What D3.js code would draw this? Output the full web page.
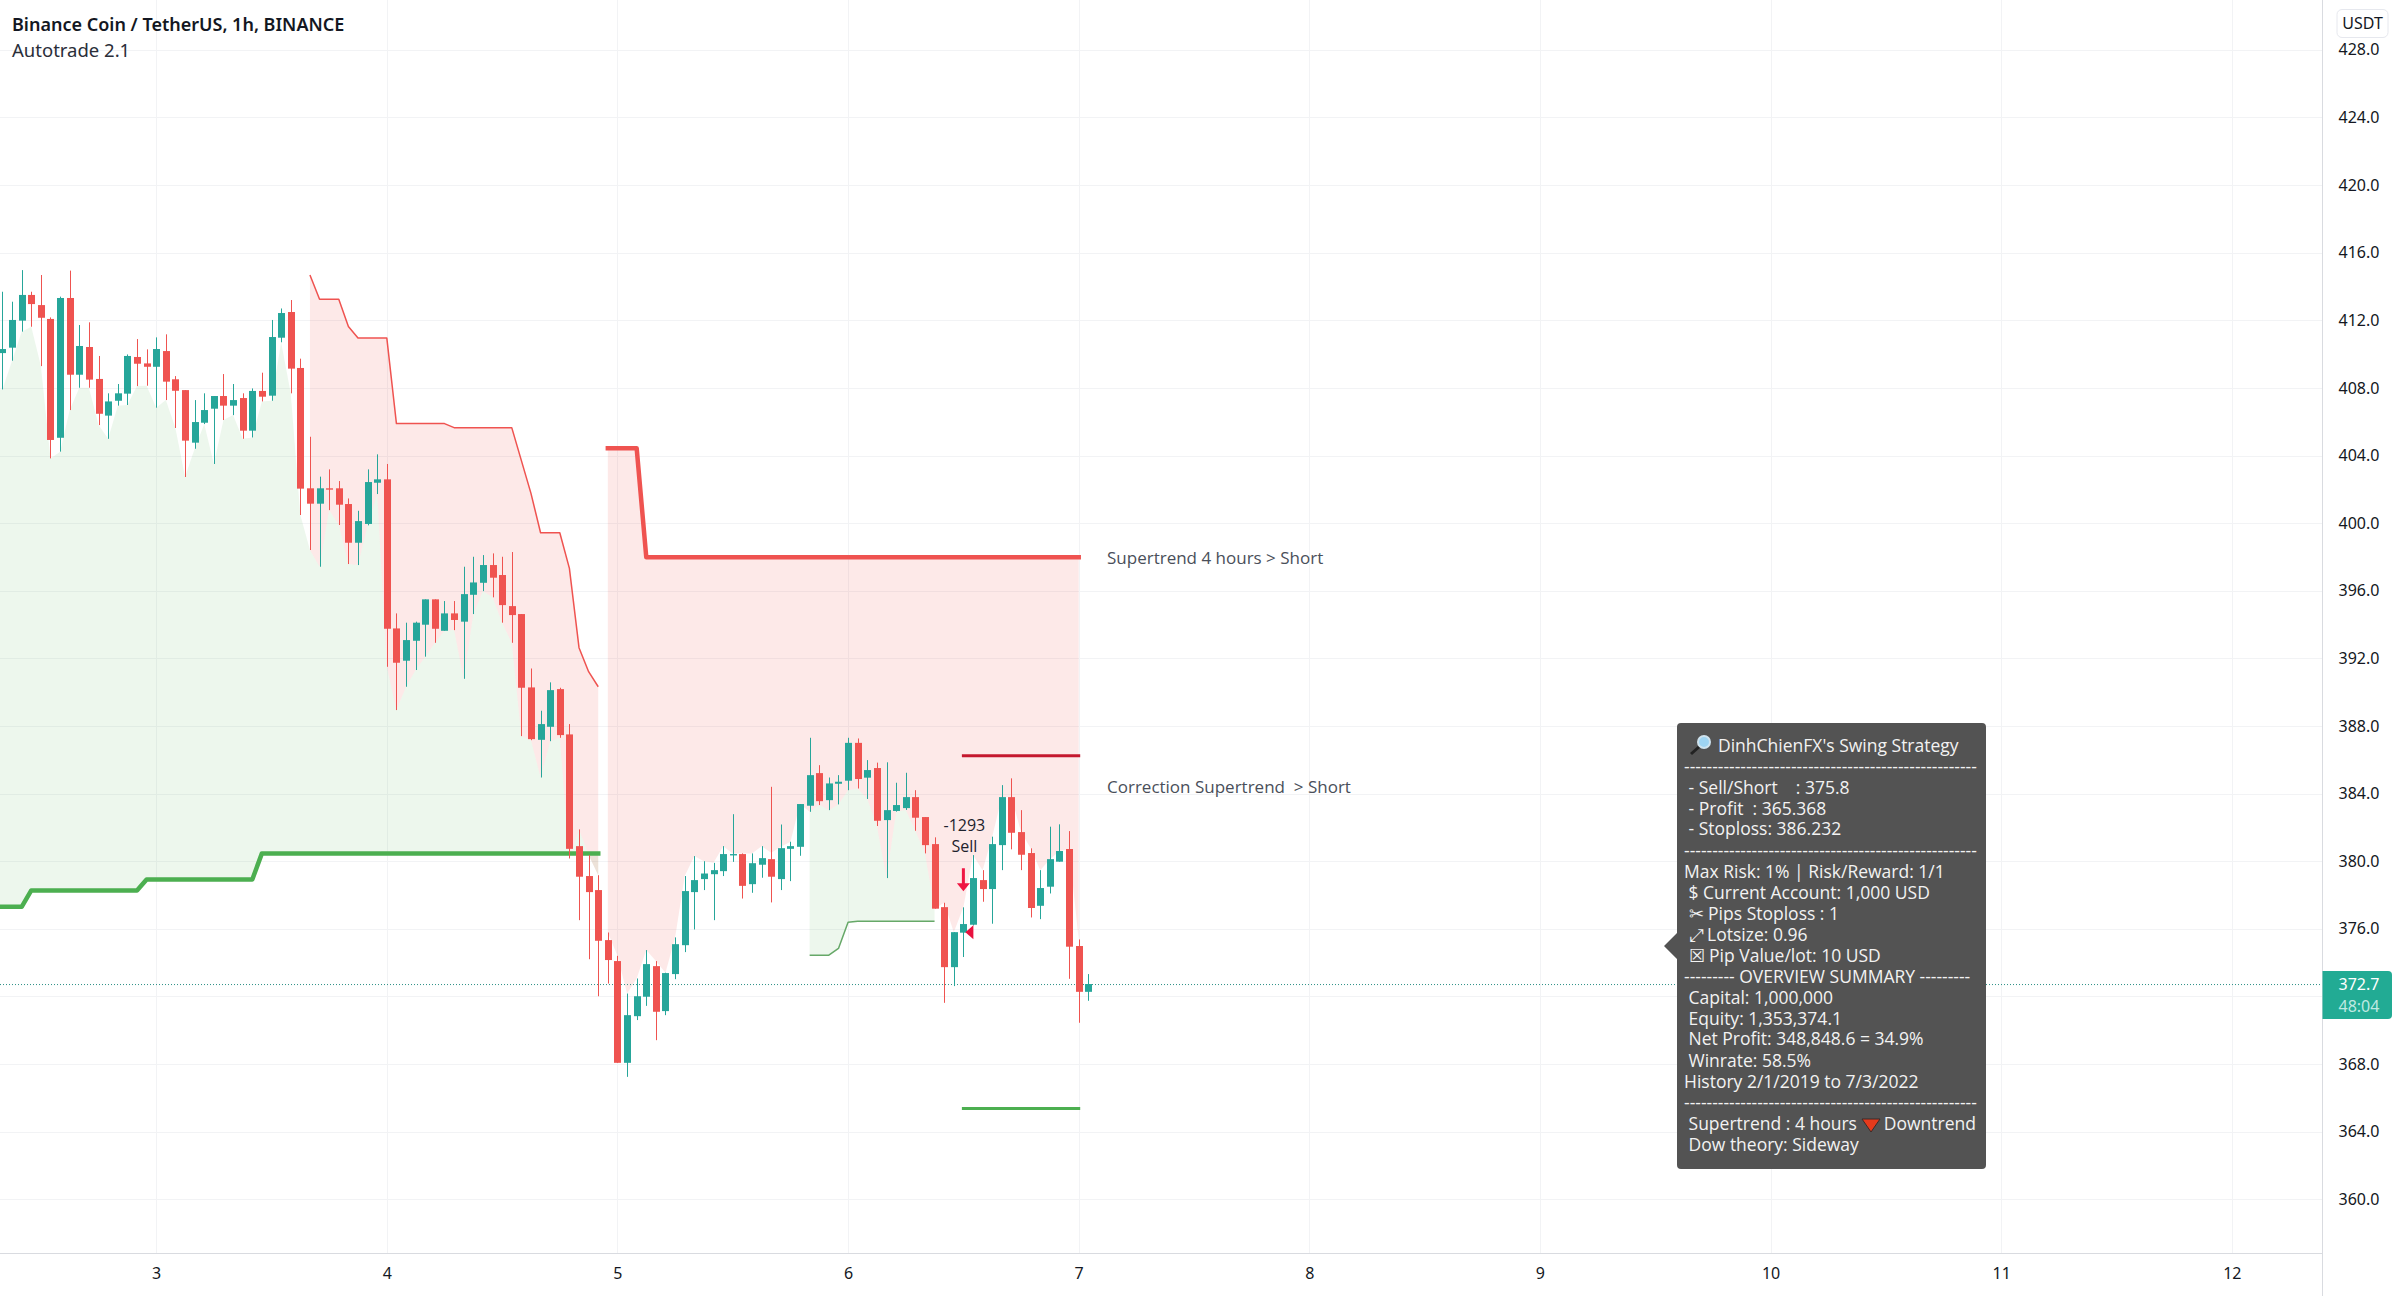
<!DOCTYPE html>
<html>
<head>
<meta charset="utf-8">
<title>Binance Coin / TetherUS, 1h</title>
<script src="https://cdnjs.cloudflare.com/ajax/libs/d3/7.8.5/d3.min.js"></script>
<style>
	body { margin: 0; background: #fff; }
	text { white-space: pre; }
</style>
</head>
<body>
<div id="chart"></div>
<script>
// bars are counted in hours from the start of day 3, first visible bar is -16
var firstBar = -16

var barOpen = [
	410.06,410.38,411.98,413.50,412.90,412.08,405.05,413.32,408.78,410.42,
	408.53,406.36,407.24,407.66,409.83,409.45,
	409.25,410.18,408.51,407.87,404.76,405.94,406.77,407.52,406.95,407.40,
	405.47,407.82,407.54,410.97,412.49,409.18,
	402.06,401.15,402.06,402.06,401.13,398.84,399.95,402.39,
	402.59,393.77,391.86,393.04,393.99,395.49,393.63,394.66,394.17,395.76,
	396.47,397.52,396.93,395.09,394.62,390.28,387.18,387.95,390.18,387.50,
	380.89,379.12,378.29,375.33,
	374.09,368.07,370.83,371.98,373.79,371.13,373.32,375.03,378.17,378.94,
	379.23,379.41,380.34,380.42,378.64,379.79,380.12,378.94,380.73,380.85,
	383.28,385.21,383.61,384.58,384.76,387.00,
	384.94,385.51,382.43,382.97,383.14,383.79,382.61,381.01,377.28,373.73,
	375.77,376.24,378.88,378.35,380.95,383.79,381.72,380.48,377.36,378.49,
	379.97,380.72,374.98,372.27
]
var barHigh = [
	413.69,413.10,414.97,413.69,414.68,412.17,413.40,414.94,411.72,411.88,
	409.89,407.68,408.23,409.98,410.89,410.28,
	410.99,411.17,408.70,407.87,407.28,407.68,407.52,408.82,408.23,407.68,
	407.97,408.90,412.02,412.70,413.20,409.73,
	405.11,402.75,403.18,402.49,401.46,400.73,403.18,404.07,
	403.50,394.66,394.11,394.17,395.49,395.49,395.39,395.39,397.42,398.01,
	398.11,398.21,398.01,398.29,394.62,391.40,388.90,390.58,390.26,388.11,
	381.88,380.36,379.17,375.78,
	374.40,372.17,373.06,374.74,374.09,373.40,375.49,379.12,380.30,380.00,
	379.90,380.89,382.78,380.46,380.46,380.89,384.40,382.17,381.15,383.38,
	387.30,385.68,384.95,385.09,387.30,387.26,
	385.98,385.83,385.85,384.64,385.23,384.20,382.61,381.41,377.54,375.80,
	377.27,380.36,379.47,381.45,384.50,384.90,383.02,380.76,379.47,382.04,
	382.18,381.78,375.37,373.32
]
var barLow = [
	407.91,409.61,411.33,411.62,409.29,403.83,404.23,406.69,408.01,408.01,
	405.80,404.99,406.95,406.99,408.11,408.13,
	406.83,407.28,405.63,402.73,404.40,405.86,403.50,406.10,406.39,404.99,
	405.07,407.20,407.24,410.70,407.68,400.48,
	398.41,397.42,400.77,399.89,397.58,397.52,399.87,401.72,
	391.50,388.94,390.32,391.31,392.10,392.92,393.63,393.67,390.79,394.62,
	395.98,395.61,394.11,392.92,387.40,387.16,384.95,387.10,387.30,380.16,
	376.51,374.20,372.01,372.76,
	368.07,367.24,370.60,371.44,369.41,370.89,373.02,374.62,375.96,378.29,
	376.51,379.12,379.96,377.79,378.13,379.02,377.56,378.29,378.82,380.32,
	382.92,383.32,383.02,383.36,384.20,384.30,
	383.68,382.08,379.00,382.93,383.03,381.80,380.46,377.19,371.62,372.61,
	374.33,376.20,377.60,376.30,379.47,380.70,379.47,376.67,376.57,378.09,
	379.97,373.04,370.44,371.74
]
var barClose = [
	410.30,412.02,413.50,412.96,412.15,404.92,413.32,408.78,410.48,408.49,
	406.47,407.20,407.68,409.89,409.43,409.25,
	410.30,408.37,407.83,404.88,405.98,406.69,407.52,406.95,407.28,405.47,
	407.82,407.48,411.01,412.43,409.14,402.04,
	401.15,402.06,401.98,401.09,398.84,400.12,402.43,402.59,
	393.75,391.74,393.08,394.11,395.49,393.75,394.66,394.27,395.80,396.49,
	397.52,396.77,395.15,394.56,390.26,387.22,388.11,390.12,387.46,380.73,
	379.08,378.17,375.29,374.15,
	368.07,370.89,372.01,373.91,371.09,373.38,375.09,378.23,378.88,379.27,
	379.47,380.42,380.42,378.54,379.88,380.18,379.08,380.77,380.89,383.38,
	385.09,383.55,384.60,384.70,387.00,384.86,
	385.39,382.39,383.02,383.32,383.79,382.57,380.95,377.19,373.73,375.80,
	376.28,379.00,378.35,381.01,383.79,381.68,380.38,377.23,378.41,380.12,
	380.60,374.94,372.27,372.73
]

// supertrend lines, hour and price at each corner
var trend4hUpHours = [-17,-14,-13,-2,-1,10,11,46]
var trend4hUpPrices = [377.3,377.3,378.27,378.27,378.92,378.92,380.46,380.46]
var trend4hDownHours = [47,50,51,96]
var trend4hDownPrices = [404.43,404.43,397.98,397.98]
var correctionDownHours = [16,17,19,20,21,24,25,30,31,37,39,40,42,43,44,45,46]
var correctionDownPrices = [414.68,413.24,413.24,411.63,410.95,410.95,405.89,405.89,405.65,405.65,401.76,399.43,399.43,397.32,392.63,391.21,390.32]
var correctionUpHours = [68,70,71,72,73,81]
var correctionUpPrices = [374.44,374.44,374.84,376.38,376.44,376.44]

// stretches of hours where the fill stops at the low of the bar, elsewhere the high
var fillToLow = [[-17,43],[68,81]]
// bars where the pink stops short of a long upper wick
var shortFillHours = [60,64,65,88,89,90,93,94,95]
var shortFillPrices = [380.46,380.5,380.85,383.79,383.79,381.72,380.12,380.6,380.72]

var tradeStartHour = 84
var tradeEndHour = 96
var entryPrice = 375.8
var stopPrice = 386.232
var profitPrice = 365.368
var lastPrice = 372.7
var countdown = "48:04"

var priceTicks = [360,364,368,372,376,380,384,388,392,396,400,404,408,412,416,420,424,428]
// 372.0 sits under the last price tag
var priceLabels = [360,364,368,376,380,384,388,392,396,400,404,408,412,416,420,424,428]
var dayTicks = [3,4,5,6,7,8,9,10,11,12]

var dashes = "----------------------------------------------------"
var panelRows = [
	{t: dashes, y: 767},
	{t: " - Sell/Short    : 375.8", y: 788},
	{t: " - Profit  : 365.368", y: 809},
	{t: " - Stoploss: 386.232", y: 829},
	{t: dashes, y: 851},
	{t: "Max Risk: 1% | Risk/Reward: 1/1", y: 872},
	{t: " $ Current Account: 1,000 USD", y: 893},
	{t: " \u2702 Pips Stoploss : 1", y: 914},
	{t: " \u2922 Lotsize: 0.96", y: 935},
	{t: " \u2612 Pip Value/lot: 10 USD", y: 956},
	{t: "--------- OVERVIEW SUMMARY ---------", y: 977},
	{t: " Capital: 1,000,000", y: 998},
	{t: " Equity: 1,353,374.1", y: 1019},
	{t: " Net Profit: 348,848.6 = 34.9%", y: 1039},
	{t: " Winrate: 58.5%", y: 1061},
	{t: "History 2/1/2019 to 7/3/2022", y: 1082},
	{t: dashes, y: 1103},
	{t: " Supertrend : 4 hours", y: 1124},
	{t: " Dow theory: Sideway", y: 1145}
]

var width = 2401, height = 1296
var plotRight = 2322.5, plotBottom = 1254

var upColour = "#26a69a", downColour = "#ef5350", trendGreen = "#4caf50"
var legendFont = "'Noto Sans', sans-serif"
var panelFont = "'Open Sans', sans-serif"
var axisFont = "'Noto Sans', sans-serif"

var x = d3.scaleLinear().domain([0, 96]).range([156.2, 1078.7])
var y = d3.scaleLinear().domain([412, 368]).range([320.3, 1064])

var bars = barOpen.map(function(o, i){
	return {hour: firstBar + i, open: o, high: barHigh[i], low: barLow[i], close: barClose[i]}
})

function barAt(hour){
	return bars[Math.max(0, hour - firstBar)]
}
function fillEdge(hour){
	var s = shortFillHours.indexOf(hour)
	if (s != -1) return shortFillPrices[s]
	var toLow = fillToLow.some(function(s){ return hour >= s[0] && hour <= s[1] })
	return toLow ? barAt(hour).low : barAt(hour).high
}

var svg = d3.select("#chart").append("svg")
	.attr("width", width)
	.attr("height", height)
	.style("display", "block")

svg.append("defs").append("clipPath").attr("id", "plot")
	.append("rect").attr("width", plotRight).attr("height", plotBottom)

// grid
var grid = svg.append("g").attr("stroke", "#f2f3f5").attr("stroke-width", 1)
grid.selectAll("line.h").data(priceTicks).enter().append("line")
	.attr("x1", 0).attr("x2", plotRight)
	.attr("y1", function(d){ return Math.round(y(d)) + 0.5 })
	.attr("y2", function(d){ return Math.round(y(d)) + 0.5 })
grid.selectAll("line.v").data(dayTicks).enter().append("line")
	.attr("y1", 0).attr("y2", plotBottom)
	.attr("x1", function(d){ return Math.round(x((d - 3) * 24)) + 0.5 })
	.attr("x2", function(d){ return Math.round(x((d - 3) * 24)) + 0.5 })

var plot = svg.append("g").attr("clip-path", "url(#plot)")

// filled bands between a trend line and the bars
function drawBand(hours, prices, fill){
	var level = d3.scaleLinear().domain(hours).range(prices)
	var area = d3.area()
		.x(function(h){ return x(h) })
		.y0(function(h){ return y(level(h)) })
		.y1(function(h){ return y(fillEdge(h)) })
	plot.append("path")
		.datum(d3.range(hours[0], hours[hours.length - 1] + 1))
		.attr("d", area)
		.attr("fill", fill)
}
var pink = "rgba(239,83,80,0.13)", pale = "rgba(76,175,80,0.1)"
drawBand(trend4hUpHours, trend4hUpPrices, pale)
drawBand(correctionDownHours, correctionDownPrices, pink)
drawBand(trend4hDownHours, trend4hDownPrices, pink)
drawBand(correctionUpHours, correctionUpPrices, pale)

// last price line
plot.append("line")
	.attr("x1", 0).attr("x2", plotRight)
	.attr("y1", y(lastPrice)).attr("y2", y(lastPrice))
	.attr("stroke", "#2c8f86")
	.attr("stroke-width", 1)
	.attr("stroke-dasharray", "1,2")

// trend lines
function drawTrend(hours, prices, colour, w, cap){
	var line = d3.line()
		.x(function(d){ return x(d) })
		.y(function(d, i){ return y(prices[i]) })
	plot.append("path")
		.datum(hours)
		.attr("d", line)
		.attr("fill", "none")
		.attr("stroke", colour)
		.attr("stroke-width", w)
		.attr("stroke-linejoin", "round")
		.attr("stroke-linecap", cap)
}
drawTrend(trend4hUpHours, trend4hUpPrices, trendGreen, 4.5, "square")
drawTrend(trend4hDownHours, trend4hDownPrices, downColour, 4.5, "square")
drawTrend(correctionDownHours, correctionDownPrices, downColour, 1.5, "butt")
drawTrend(correctionUpHours, correctionUpPrices, "#66a868", 1.5, "butt")

// stop and profit level of the open trade
plot.append("line")
	.attr("x1", x(tradeStartHour)).attr("x2", x(tradeEndHour))
	.attr("y1", y(stopPrice)).attr("y2", y(stopPrice))
	.attr("stroke", "#c4182e").attr("stroke-width", 3).attr("stroke-linecap", "square")
plot.append("line")
	.attr("x1", x(tradeStartHour)).attr("x2", x(tradeEndHour))
	.attr("y1", y(profitPrice)).attr("y2", y(profitPrice))
	.attr("stroke", trendGreen).attr("stroke-width", 3).attr("stroke-linecap", "square")

// candles
function barColour(d){ return d.close >= d.open ? upColour : downColour }
var candle = plot.selectAll("g.bar").data(bars).enter().append("g").attr("class", "bar")
candle.append("rect")
	.attr("x", function(d){ return Math.round(x(d.hour)) })
	.attr("width", 1)
	.attr("y", function(d){ return y(d.high) })
	.attr("height", function(d){ return y(d.low) - y(d.high) })
	.attr("fill", barColour)
candle.append("rect")
	.attr("x", function(d){ return Math.round(x(d.hour)) - 3 })
	.attr("width", 7)
	.attr("y", function(d){ return y(Math.max(d.open, d.close)) })
	.attr("height", function(d){ return Math.max(1, Math.abs(y(d.open) - y(d.close))) })
	.attr("fill", barColour)

// sell signal
var signalX = x(tradeStartHour)
var tradeLabel = plot.append("g")
	.attr("font-family", panelFont)
	.attr("font-size", 16)
	.attr("fill", "#1e222d")
	.attr("text-anchor", "middle")
tradeLabel.append("text").attr("x", signalX + 1).attr("y", y(entryPrice) - 101).text("-1293")
tradeLabel.append("text").attr("x", signalX + 1).attr("y", y(entryPrice) - 80).text("Sell")
plot.append("path")
	.attr("transform", "translate(" + signalX + "," + (y(entryPrice) - 64) + ")")
	.attr("d", "M-1.5,0H1.5V15H6.5L0,23L-6.5,15H-1.5Z")
	.attr("fill", "#ef1643")
plot.append("path")
	.attr("transform", "translate(" + (signalX + 2) + "," + y(entryPrice) + ")")
	.attr("d", "M0,0L8,-7V7Z")
	.attr("fill", "#e8123f")

// text beside the lines
var sideLabels = plot.append("g")
	.attr("font-family", panelFont)
	.attr("font-size", 17)
	.attr("fill", "#4a4f5a")
sideLabels.append("text").attr("x", 1107).attr("y", y(397.98) + 7).text("Supertrend 4 hours > Short")
sideLabels.append("text").attr("x", 1107).attr("y", y(384.42) + 7).text("Correction Supertrend  > Short")

// panel
var panel = svg.append("g")
panel.append("path")
	.attr("d", "M1664,946L1677,933V727Q1677,723 1681,723H1982Q1986,723 1986,727V1165Q1986,1169 1982,1169H1681Q1677,1169 1677,1165V959Z")
	.attr("fill", "#535353")
var panelText = panel.append("g")
	.attr("font-family", panelFont)
	.attr("font-size", 17.5)
	.attr("fill", "#f2f2f2")
panelText.append("text").attr("x", 1718).attr("y", 752).text("DinhChienFX's Swing Strategy")
panelText.selectAll("text.row").data(panelRows).enter().append("text")
	.attr("class", "row")
	.attr("x", 1684)
	.attr("y", function(d){ return d.y + 6 })
	.text(function(d){ return d.t })
panelText.append("text").attr("x", 1976).attr("y", 1130).attr("text-anchor", "end").text("Downtrend")
panel.append("path")
	.attr("d", "M1862,1119H1880L1871,1132Z")
	.attr("fill", "#e53a1c")
	.attr("stroke", "#3a2a28")
// magnifying glass in the title
panel.append("line").attr("x1", 1691).attr("y1", 754).attr("x2", 1700).attr("y2", 746)
	.attr("stroke", "#222").attr("stroke-width", 3)
panel.append("circle").attr("cx", 1704).attr("cy", 742).attr("r", 6)
	.attr("fill", "#9ed4f2").attr("stroke", "#cfe3ee").attr("stroke-width", 2)

// axis lines
svg.append("line").attr("x1", plotRight).attr("x2", plotRight).attr("y1", 0).attr("y2", height)
	.attr("stroke", "#d9dbe0")
svg.append("line").attr("x1", 0).attr("x2", plotRight).attr("y1", plotBottom - 0.5).attr("y2", plotBottom - 0.5)
	.attr("stroke", "#d9dbe0")

var priceAxis = svg.append("g")
	.attr("transform", "translate(" + plotRight + ",0)")
	.call(d3.axisRight(y).tickValues(priceLabels).tickSize(0).tickPadding(16).tickFormat(d3.format(".1f")))
priceAxis.select(".domain").remove()
priceAxis.selectAll("text").attr("font-family", axisFont).attr("font-size", 16).attr("fill", "#131722")

var dayScale = d3.scaleLinear().domain([3, 4]).range([x(0), x(24)])
var timeAxis = svg.append("g")
	.attr("transform", "translate(0," + plotBottom + ")")
	.call(d3.axisBottom(dayScale).tickValues(dayTicks).tickSize(0).tickPadding(14).tickFormat(d3.format("d")))
timeAxis.select(".domain").remove()
timeAxis.selectAll("text").attr("font-family", axisFont).attr("font-size", 16).attr("fill", "#131722")

// currency button
svg.append("rect").attr("x", 2337).attr("y", 9.5).attr("width", 51).attr("height", 28).attr("rx", 5)
	.attr("fill", "#fff").attr("stroke", "#e6e8ee")
svg.append("text").attr("x", 2362.5).attr("y", 29).attr("text-anchor", "middle")
	.attr("font-family", axisFont).attr("font-size", 16).attr("fill", "#131722").text("USDT")

// last price tag
svg.append("path")
	.attr("d", "M" + plotRight + ",971H2388Q2392,971 2392,975V1015Q2392,1019 2388,1019H" + plotRight + "Z")
	.attr("fill", "#22ab94")
svg.append("text").attr("x", 2338.5).attr("y", y(lastPrice) + 5)
	.attr("font-family", axisFont).attr("font-size", 16).attr("fill", "#fff").text(d3.format(".1f")(lastPrice))
svg.append("text").attr("x", 2338.5).attr("y", y(lastPrice) + 27)
	.attr("font-family", axisFont).attr("font-size", 16).attr("fill", "#bfe9e2").text(countdown)

// legend
svg.append("text").attr("x", 12).attr("y", 31)
	.attr("font-family", legendFont).attr("font-size", 18).attr("font-weight", 600).attr("fill", "#131722")
	.text("Binance Coin / TetherUS, 1h, BINANCE")
svg.append("text").attr("x", 12).attr("y", 57)
	.attr("font-family", legendFont).attr("font-size", 18.5).attr("fill", "#2a2e39")
	.text("Autotrade 2.1")
</script>
</body>
</html>
